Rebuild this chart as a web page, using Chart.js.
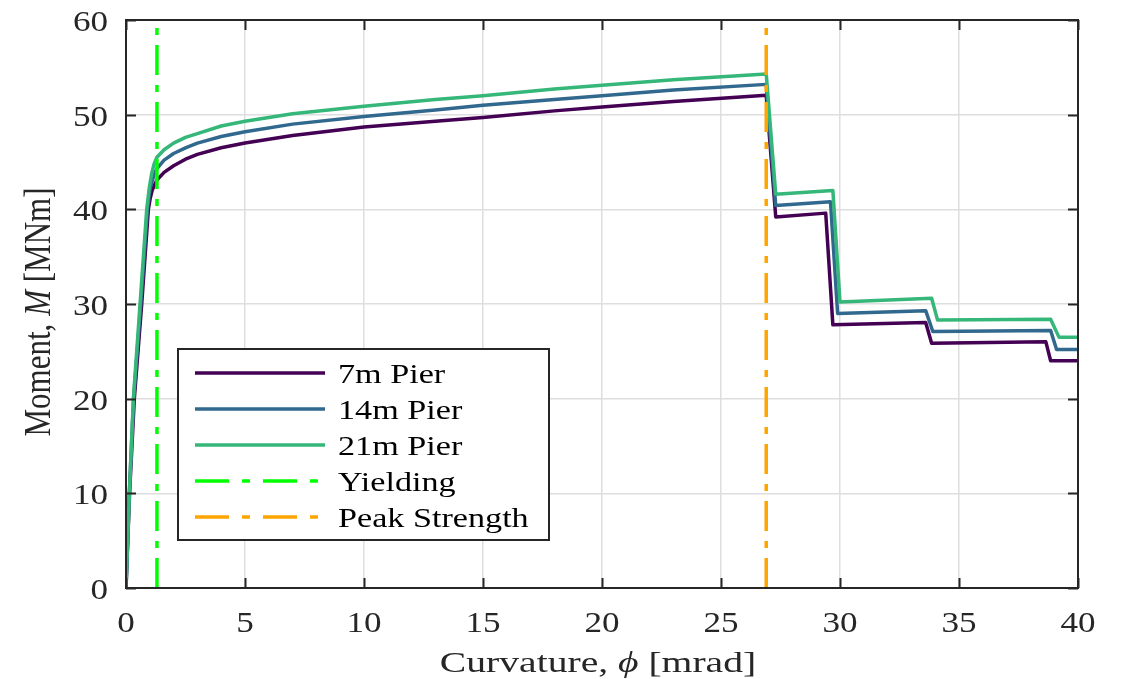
<!DOCTYPE html>
<html lang="en">
<head>
<meta charset="UTF-8" />
<title>Moment-Curvature</title>
<style>
  html, body { margin: 0; padding: 0; background: #fff; }
</style>
</head>
<body>
<canvas id="myChart" width="1124" height="679"></canvas>
<script src="https://cdn.jsdelivr.net/npm/chart.js"></script>
<script>
// curvature [mrad] / moment [MNm] for each pier height
const phi7 = [0, 0.15, 0.35, 0.66, 0.94, 1.02, 1.1, 1.2, 1.3, 1.6, 2, 2.5, 3, 4, 5, 7, 10, 13, 15, 18, 20, 23, 26.9, 27.3, 29.4, 29.7, 33.6, 33.85, 38.65, 38.85, 40]
const m7 = [0, 10, 20, 30, 40, 41.2, 42.0, 42.6, 43.1, 43.9, 44.6, 45.3, 45.8, 46.5, 47.0, 47.8, 48.7, 49.3, 49.7, 50.4, 50.8, 51.4, 52.05, 39.2, 39.6, 27.8, 28.05, 25.85, 26.0, 24.0, 24.0]

const phi14 = [0, 0.14, 0.32, 0.62, 0.9, 1.0, 1.1, 1.2, 1.3, 1.6, 2, 2.5, 3, 4, 5, 7, 10, 13, 15, 18, 20, 23, 26.9, 27.3, 29.6, 29.9, 33.6, 33.9, 38.85, 39.1, 40]
const m14 = [0, 10, 20, 30, 40, 42.0, 43.0, 43.8, 44.3, 45.2, 45.9, 46.5, 47.0, 47.7, 48.2, 49.0, 49.8, 50.5, 51.0, 51.6, 52.0, 52.6, 53.2, 40.4, 40.8, 29.0, 29.3, 27.1, 27.2, 25.2, 25.2]

const phi21 = [0, 0.14, 0.31, 0.59, 0.87, 0.98, 1.08, 1.18, 1.3, 1.6, 2, 2.5, 3, 4, 5, 7, 10, 13, 15, 18, 20, 23, 26.9, 27.3, 29.7, 30.0, 33.85, 34.1, 38.85, 39.2, 40]
const m21 = [0, 10, 20, 30, 40, 42.3, 43.8, 44.8, 45.5, 46.3, 47.0, 47.6, 48.0, 48.8, 49.3, 50.1, 50.9, 51.6, 52.0, 52.7, 53.1, 53.7, 54.3, 41.6, 42.0, 30.2, 30.6, 28.3, 28.4, 26.5, 26.5]

const yieldPhi = 1.3
const peakPhi = 26.9

const xMin = 0, xMax = 40, xStep = 5
const yMin = 0, yMax = 60, yStep = 10

const seriesNames = ['7m Pier', '14m Pier', '21m Pier', 'Yielding', 'Peak Strength']
const seriesColors = ['#440154', '#31688e', '#35b779', '#00ff00', '#ffa500']

const toPoints = (xs, ys) => xs.map((x, i) => ({ x: x, y: ys[i] }))
const vline = (x) => [{ x: x, y: yMin }, { x: x, y: yMax }]

const serif = '"Liberation Serif", "Times New Roman", serif'
const ink = '#262626'
const dashDot = [30, 10, 7, 10]

// text drawn from (x, y) with a horizontal stretch; parts = [[text, font], ...]
function drawParts(ctx, parts, x, y, sx, align) {
  let w = 0
  parts.forEach(([s, f]) => { ctx.font = f; w += ctx.measureText(s).width })
  ctx.save()
  ctx.translate(x, y)
  ctx.scale(sx, 1)
  let cx = align === 'center' ? -w / 2 : align === 'right' ? -w : 0
  ctx.textAlign = 'left'
  parts.forEach(([s, f]) => {
    ctx.font = f
    ctx.fillText(s, cx, 0)
    cx += ctx.measureText(s).width
  })
  ctx.restore()
}

// inward ticks on all four sides, closed frame, tick labels and axis titles
const framePlugin = {
  id: 'frame',
  afterDraw(chart) {
    const { ctx, chartArea: a } = chart
    const xs = chart.scales.x, ys = chart.scales.y
    ctx.save()
    ctx.strokeStyle = ink
    ctx.lineWidth = 2
    const len = 10
    ctx.beginPath()
    xs.ticks.forEach((t) => {
      const px = Math.round(xs.getPixelForValue(t.value)) + 0.5
      ctx.moveTo(px, a.bottom); ctx.lineTo(px, a.bottom - len)
      ctx.moveTo(px, a.top); ctx.lineTo(px, a.top + len)
    })
    ys.ticks.forEach((t) => {
      const py = Math.round(ys.getPixelForValue(t.value)) + 0.5
      ctx.moveTo(a.left, py); ctx.lineTo(a.left + len, py)
      ctx.moveTo(a.right, py); ctx.lineTo(a.right - len, py)
    })
    ctx.stroke()
    ctx.strokeRect(a.left, a.top, a.right - a.left, a.bottom - a.top)

    ctx.fillStyle = ink
    ctx.textBaseline = 'alphabetic'
    const tickFont = '30px ' + serif
    xs.ticks.forEach((t) => {
      drawParts(ctx, [[String(t.value), tickFont]], xs.getPixelForValue(t.value), a.bottom + 44, 1.17, 'center')
    })
    ys.ticks.forEach((t) => {
      drawParts(ctx, [[String(t.value), tickFont]], a.left - 18, ys.getPixelForValue(t.value) + 11, 1.17, 'right')
    })

    const xParts = [['Curvature, ', '30px ' + serif], ['\u03D5', 'italic 30px ' + serif], [' [mrad]', '30px ' + serif]]
    drawParts(ctx, xParts, 598, 672, 1.32, 'center')

    ctx.save()
    ctx.translate(50, 312)
    ctx.rotate(-Math.PI / 2)
    ctx.scale(1, 1.2)
    const yParts = [['Moment, ', '32px ' + serif], ['M', 'italic 32px ' + serif], [' [MNm]', '32px ' + serif]]
    drawParts(ctx, yParts, 0, 0, 0.97, 'center')
    ctx.restore()
    ctx.restore()
  }
}

// boxed legend in the lower left of the plot area
const legendPlugin = {
  id: 'boxLegend',
  afterDraw(chart) {
    const { ctx } = chart
    const box = { x: 178, y: 349, w: 371, h: 191 }
    ctx.save()
    ctx.fillStyle = '#ffffff'
    ctx.fillRect(box.x, box.y, box.w, box.h)
    ctx.strokeStyle = ink
    ctx.lineWidth = 2
    ctx.strokeRect(box.x, box.y, box.w, box.h)
    chart.data.datasets.forEach((ds, i) => {
      const y = box.y + 24 + i * 36
      ctx.strokeStyle = ds.borderColor
      ctx.lineWidth = 3.5
      ctx.setLineDash(ds.borderDash ? [34, 13, 8, 13] : [])
      ctx.beginPath()
      ctx.moveTo(box.x + 17, y)
      ctx.lineTo(box.x + 147, y)
      ctx.stroke()
      ctx.setLineDash([])
      ctx.fillStyle = '#000'
      ctx.textBaseline = 'alphabetic'
      drawParts(ctx, [[ds.label, '28px ' + serif]], box.x + 160, y + 10, 1.22, 'left')
    })
    ctx.restore()
  }
}

const lineSet = (i, xs, ys, order) => ({
  label: seriesNames[i],
  data: toPoints(xs, ys),
  borderColor: seriesColors[i],
  borderWidth: 3.5,
  pointRadius: 0,
  tension: 0,
  borderJoinStyle: 'round',
  order: order
})

const ctx = document.getElementById('myChart')
const myChart = new Chart(ctx, {
  type: 'line',
  data: {
    datasets: [
      lineSet(0, phi7, m7, 3),
      lineSet(1, phi14, m14, 2),
      lineSet(2, phi21, m21, 1),
      { label: seriesNames[3], data: vline(yieldPhi), borderColor: seriesColors[3], borderWidth: 3.5, borderDash: dashDot, pointRadius: 0, order: 0 },
      { label: seriesNames[4], data: vline(peakPhi), borderColor: seriesColors[4], borderWidth: 3.5, borderDash: dashDot, pointRadius: 0, order: 0 }
    ]
  },
  options: {
    responsive: false,
    animation: false,
    layout: { padding: { top: 20, right: 46, left: 0, bottom: 0 } },
    plugins: {
      legend: { display: false },
      tooltip: { enabled: false }
    },
    scales: {
      x: {
        type: 'linear',
        min: xMin,
        max: xMax,
        ticks: { stepSize: xStep, display: false },
        grid: { color: '#dedede', lineWidth: 1.5, drawTicks: false },
        border: { display: false },
        afterFit: (scale) => { scale.height = 91 }
      },
      y: {
        min: yMin,
        max: yMax,
        ticks: { stepSize: yStep, display: false },
        grid: { color: '#dedede', lineWidth: 1.5, drawTicks: false },
        border: { display: false },
        afterFit: (scale) => { scale.width = 126 }
      }
    }
  },
  plugins: [framePlugin, legendPlugin]
})
</script>
</body>
</html>
